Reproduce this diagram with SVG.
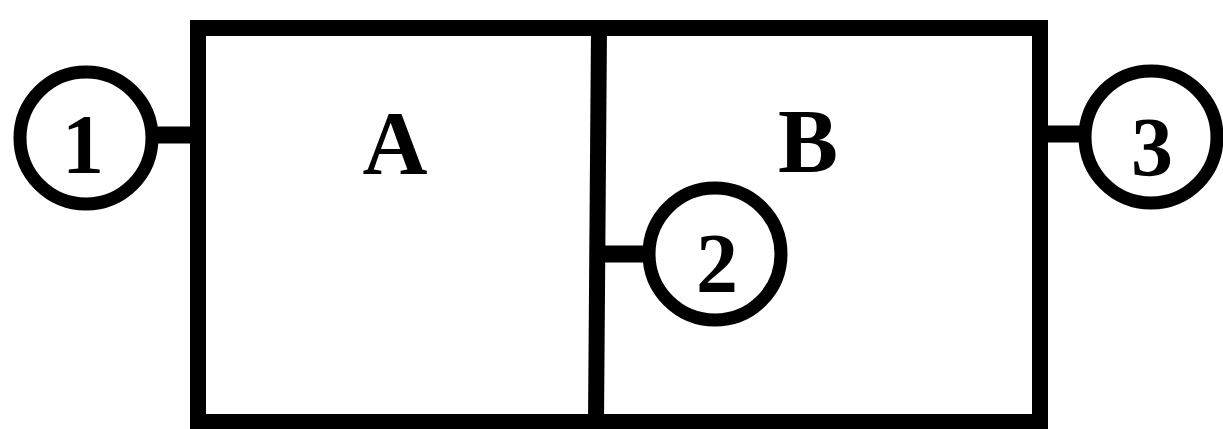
<svg xmlns="http://www.w3.org/2000/svg" width="1223" height="429" viewBox="0 0 1223 429">
  <style>
    .frame { fill: none; stroke: #000; stroke-width: 16; }
    .port { fill: #fff; stroke: #000; stroke-width: 13; }
    .link { stroke: #000; stroke-width: 17; }
    .label { font-family: 'Times New Roman', Tinos, 'Liberation Serif', 'Nimbus Roman', serif; font-weight: bold; font-size: 90px; fill: #000; text-anchor: middle; }
    .num { font-size: 84px; }
  </style>
  <rect width="1223" height="429" fill="#fff"/>

  <!-- outer housing split into two chambers -->
  <g id="housing">
    <rect class="frame" x="198" y="28" width="842" height="394"/>
    <line class="frame" x1="599" y1="28" x2="596" y2="422"/>
  </g>

  <g id="chamber-A">
    <text class="label" x="395" y="174">A</text>
  </g>
  <g id="chamber-B">
    <text class="label" x="808" y="172">B</text>
  </g>

  <!-- short stubs joining the ports to the walls -->
  <g id="connectors">
    <line class="link" x1="152" y1="135" x2="192" y2="135"/>
    <line class="link" x1="602" y1="254" x2="648" y2="254"/>
    <line class="link" x1="1046" y1="134" x2="1086" y2="134"/>
  </g>

  <g id="port-1">
    <circle class="port" cx="86" cy="138" r="66"/>
    <text class="label num" x="83" y="173">1</text>
  </g>
  <g id="port-2">
    <circle class="port" cx="715" cy="254" r="66"/>
    <text class="label num" x="717" y="292">2</text>
  </g>
  <g id="port-3">
    <circle class="port" cx="1151" cy="137" r="66"/>
    <text class="label num" x="1152" y="176">3</text>
  </g>
</svg>
